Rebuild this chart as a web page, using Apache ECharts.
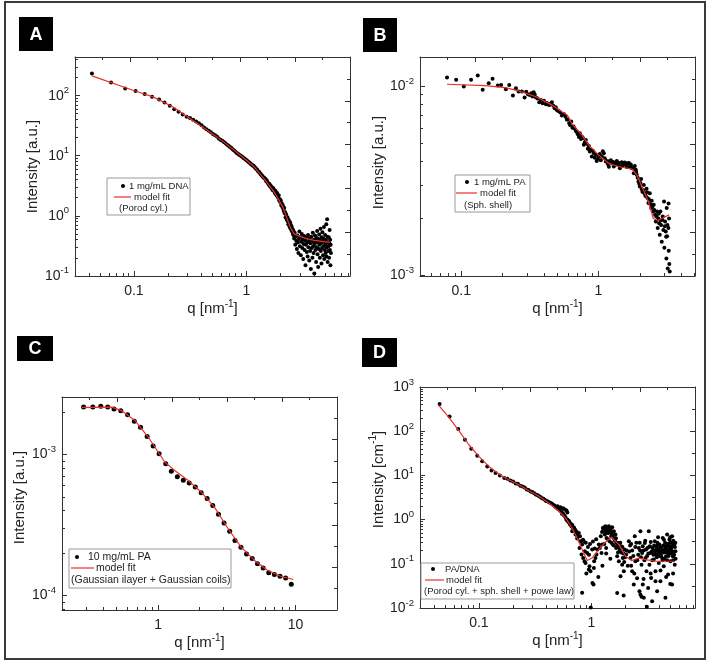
<!DOCTYPE html>
<html>
<head>
<meta charset="utf-8">
<script src="https://cdn.jsdelivr.net/npm/echarts@6/dist/echarts.min.js"></script>
<style>
html,body{margin:0;padding:0;background:#fff;}
#chart{width:709px;height:663px;}
</style>
</head>
<body>
<div id="chart"></div>
<script>
// ---- panel A : 1 mg/mL DNA ----
var dataA = [
  [0.0424,233],[0.0627,165],[0.0836,131],[0.1035,119],[0.1247,107],[0.145,95.7],[0.1675,86.4],[0.187,76.9],[0.2086,67.7],[0.228,59.6],[0.249,53.9],[0.271,48.6],[0.294,44.5],
  [0.315,42.5],[0.336,39.8],[0.357,37.2],[0.378,34.8],[0.399,32.3],[0.42,29.6],[0.441,27.6],[0.462,26.0],[0.483,24.6],[0.504,23.1],[0.525,22.0],[0.546,20.8],[0.567,19.4],[0.588,18.4],[0.609,17.7],[0.63,16.9],
  [0.651,16.1],[0.672,15.3],[0.693,14.6],[0.714,14.0],[0.735,13.4],[0.756,12.7],[0.777,12.2],[0.798,11.6],[0.819,11.1],[0.84,10.8],[0.861,10.4],[0.882,10.1],
  [0.903,9.8],[0.924,9.5],[0.945,9.1],[0.966,8.9],[0.987,8.6],[1.008,8.3],[1.029,8.0],[1.05,7.8],[1.071,7.6],[1.092,7.3],[1.113,7.1],[1.134,6.9],[1.155,6.8],[1.176,6.5],
  [1.197,6.3],[1.218,6.0],[1.239,5.9],[1.26,5.6],[1.281,5.4],[1.302,5.3],[1.323,5.0],[1.344,4.9],[1.365,4.7],[1.386,4.6],[1.407,4.4],[1.428,4.3],[1.449,4.2],
  [1.47,4.1],[1.491,3.8],[1.512,3.9],[1.533,3.6],[1.554,3.5],[1.575,3.3],[1.596,3.4],[1.617,3.1],[1.638,3.2],[1.659,2.9],[1.68,3.0],[1.701,2.7],[1.722,2.9],[1.743,2.6],[1.764,2.7],[1.785,2.4],[1.806,2.6],[1.827,2.3],[1.848,2.2],[1.869,2.4],
  [1.89,2.1],[1.911,2.0],[1.932,2.2],[1.953,1.8],[1.974,1.9],[1.995,1.7],[2.016,1.8],[2.037,1.5],[2.058,1.6],[2.079,1.4],[2.1,1.5],[2.121,1.3],[2.142,1.2],[2.163,1.35],[2.184,1.1],[2.205,1.15],[2.226,0.95],[2.247,1.05],[2.268,0.9],[2.289,0.85],
  [2.31,0.95],[2.331,0.8],[2.352,0.72],[2.373,0.85],[2.394,0.7],[2.415,0.66],[2.436,0.78],[2.457,0.62],[2.478,0.7],[2.499,0.58],[2.52,0.66],[2.541,0.55],[2.562,0.6],[2.583,0.5],[2.604,0.57],[2.625,0.47],
  [2.65,0.42],[2.68,0.52],[2.71,0.33],[2.74,0.45],[2.77,0.38],[2.80,0.28],[2.83,0.47],[2.86,0.36],[2.89,0.24],[2.92,0.41],
  [2.95,0.55],[2.98,0.31],[3.01,0.44],[3.04,0.22],[3.07,0.37],[3.10,0.50],[3.13,0.29],[3.16,0.40],[3.19,0.19],[3.22,0.34],
  [3.25,0.46],[3.28,0.27],[3.31,0.39],[3.34,0.15],[3.37,0.33],[3.40,0.43],[3.43,0.25],[3.46,0.36],[3.49,0.21],[3.52,0.48],
  [3.55,0.30],[3.58,0.38],[3.61,0.18],[3.64,0.42],[3.67,0.26],[3.70,0.35],[3.73,0.13],[3.76,0.45],[3.79,0.29],[3.82,0.37],
  [3.85,0.20],[3.88,0.52],[3.91,0.31],[3.94,0.24],[3.97,0.40],[4.00,0.11],[4.03,0.34],[4.06,0.47],[4.09,0.27],[4.12,0.38],
  [4.15,0.17],[4.18,0.43],[4.21,0.30],[4.24,0.56],[4.27,0.23],[4.30,0.36],[4.33,0.14],[4.36,0.41],[4.39,0.28],[4.42,0.49],
  [4.45,0.33],[4.48,0.20],[4.51,0.39],[4.54,0.61],[4.57,0.26],[4.60,0.35],[4.63,0.16],[4.66,0.44],[4.69,0.29],[4.72,0.53],
  [4.75,0.37],[4.78,0.22],[4.81,0.42],[4.84,0.31],[4.87,0.65],[4.90,0.19],[4.93,0.38],[4.96,0.27],[4.99,0.48],[5.02,0.34],
  [5.05,0.24],[5.08,0.40],[5.11,0.72],[5.14,0.21],[5.17,0.30],[5.20,0.88],[5.23,0.45],[5.26,0.17],[5.29,0.36],[5.32,0.26],
  [5.35,0.31],[5.38,0.44],[5.41,0.20],[5.44,0.35],[5.47,0.58],[5.50,0.27],[5.53,0.40],[5.56,0.15],[5.59,0.33],[5.62,0.24]
];
var fitA = [[0.0424,213],[0.098,123],[0.148,95.5],[0.223,64.6],[0.315,41.7],[0.445,26.9],[0.627,17.0],[0.883,10.2],[1.164,6.6],[1.429,4.17],[1.758,2.51],[2.11,1.38],[2.44,0.65],[2.65,0.5],[3.1,0.44],[4.0,0.39],[5.5,0.36]];

// ---- panel B : 1 mg/mL PA ----
var dataB = [
  [0.0787,0.01106],[0.0917,0.01076],[0.1043,0.00992],[0.1178,0.01076],[0.1318,0.01134],[0.1432,0.00953],[0.1584,0.01033],[0.169,0.01089],[0.1844,0.01004],[0.1951,0.01012],
  [0.2112,0.0096],[0.2235,0.01012],[0.2378,0.00889],[0.25,0.00972],[0.2615,0.00934],[0.2765,0.00934],[0.2892,0.00868],[0.297,0.0093],[0.3062,0.00904],[0.315,0.00895],
  [0.3238,0.00915],[0.33,0.0088],[0.3367,0.00926],[0.343,0.00902],[0.35,0.00868],[0.36,0.00858],[0.37,0.0082],[0.38,0.00842],[0.3913,0.0081],[0.40,0.00835],
  [0.4137,0.008],[0.42,0.00812],[0.43,0.00798],[0.4374,0.00794],[0.447,0.00805],[0.4576,0.0082],[0.468,0.00785],[0.4788,0.00763],[0.488,0.00772],[0.4976,0.00747],
  [0.507,0.0074],[0.5173,0.00732],[0.528,0.00725],[0.5405,0.00698],[0.55,0.0071],[0.5618,0.00709],[0.575,0.00688],[0.5881,0.00662],[0.60,0.00668],[0.6118,0.00636],
  [0.62,0.00622],[0.6328,0.00649],[0.645,0.00602],[0.6578,0.0061],[0.67,0.00595],[0.6841,0.00579],[0.695,0.00572],[0.7071,0.00556],[0.72,0.00538],[0.7312,0.00563],
  [0.745,0.00525],[0.756,0.00541],[0.77,0.00532],[0.7817,0.00489],[0.795,0.00505],[0.8084,0.00519],[0.82,0.00495],[0.836,0.00466],[0.85,0.00482],[0.8644,0.00451],
  [0.88,0.00461],[0.8939,0.00424],[0.91,0.00455],[0.9247,0.00442],[0.94,0.00418],[0.9563,0.00433],[0.97,0.00402],[0.9889,0.00412],[1.005,0.00425],[1.0226,0.00437],
  [1.04,0.00405],[1.0574,0.00424],[1.075,0.00452],[1.0935,0.00442],[1.11,0.00415],[1.1307,0.00399],[1.15,0.00402],[1.1693,0.00387],[1.19,0.00375],[1.2091,0.00402],
  [1.23,0.00405],[1.2503,0.00391],[1.27,0.00398],[1.293,0.00376],[1.315,0.00385],[1.337,0.00396],[1.36,0.00402],[1.3826,0.00384],[1.405,0.00392],[1.4297,0.00368],
  [1.455,0.00378],[1.4784,0.00396],[1.505,0.00381],[1.529,0.00391],[1.555,0.00395],[1.581,0.00384],[1.61,0.00374],[1.635,0.00391],[1.665,0.00392],[1.6905,0.00376],
  [1.72,0.00385],[1.7481,0.00368],[1.78,0.00372],[1.8077,0.00346],[1.84,0.00378],[1.8693,0.00361],
  [1.85,0.00361],[1.88,0.00352],[1.90,0.0034],[1.93,0.00328],[1.955,0.00313],[1.98,0.00305],[2.0,0.00295],[2.02,0.00308],[2.045,0.00323],[2.07,0.00285],
  [2.09,0.00277],[2.12,0.00282],[2.14,0.003],[2.165,0.00272],[2.19,0.00266],[2.215,0.00262],[2.24,0.00287],[2.26,0.00275],[2.286,0.00256],[2.31,0.00241],
  [2.33,0.00252],[2.363,0.00272],[2.39,0.00238],[2.42,0.00227],[2.444,0.00248],[2.47,0.0023],[2.5,0.00218],[2.527,0.00236],[2.55,0.00222],[2.585,0.00209],
  [2.614,0.00193],[2.64,0.00205],[2.673,0.00218],[2.70,0.00178],[2.734,0.002],[2.75,0.00212],[2.765,0.00189],[2.795,0.00164],[2.826,0.00218],[2.84,0.00195],
  [2.858,0.00185],[2.89,0.00151],[2.922,0.00197],[2.94,0.00205],[2.97,0.00174],[3.004,0.00246],[3.02,0.0014],[3.04,0.00182],[3.056,0.00193],[3.09,0.00171],
  [3.11,0.0016],[3.125,0.00123],[3.14,0.00227],[3.16,0.00161],[3.18,0.00185],[3.196,0.00109],[3.23,0.00178],[3.24,0.0024],[3.25,0.00135],[3.267,0.002],
  [3.28,0.00115],[3.304,0.00105]
];
var fitB = [[0.0787,0.0102],[0.1496,0.01004],[0.209,0.0098],[0.261,0.00941],[0.346,0.00879],[0.457,0.00794],[0.541,0.0073],[0.594,0.0070],[0.64,0.0063],[0.756,0.00552],[0.846,0.00489],[1.0,0.00433],[1.183,0.00391],[1.399,0.00376],[1.75,0.00364],[1.901,0.0034],[2.07,0.00295],[2.31,0.00245],[2.51,0.002],[2.7,0.00195],[2.97,0.00202],[3.27,0.00209]];

// ---- panel C : 10 mg/mL PA ----
var dataC = [
  [0.287,0.002163],[0.335,0.002163],[0.383,0.00219],[0.43,0.00217],[0.478,0.0021],[0.535,0.00204],[0.6,0.00191],[0.671,0.00172],[0.745,0.00156],[0.832,0.00134],
  [0.92,0.001145],[1.017,0.00101],[1.136,0.000859],[1.248,0.000758],[1.38,0.000695],[1.525,0.000655],[1.684,0.000627],[1.862,0.000587],[2.057,0.000535],[2.274,0.000486],
  [2.498,0.000435],[2.747,0.000376],[3.017,0.000327],[3.315,0.000285],[3.622,0.000245],[4.004,0.00022],[4.398,0.000197],[4.833,0.000183],[5.282,0.000168],[5.805,0.000157],
  [6.378,0.000145],[7.011,0.000141],[7.703,0.000137],[8.468,0.000133],[9.3,0.00012]
];
var fitC = [[0.279,0.002153],[0.46,0.002163],[0.543,0.00204],[0.678,0.001741],[0.847,0.001327],[1.0,0.001039],[1.117,0.000883],[1.319,0.00077],[1.648,0.000655],[2.057,0.000541],[2.569,0.000423],[3.206,0.000301],[4.004,0.000221],[5.0,0.000178],[6.24,0.000151],[7.79,0.000137],[9.62,0.00013]];

// ---- panel D : PA/DNA ----
var dataD = [
  [0.0448,412],[0.0549,217],[0.0656,112],[0.0752,64.3],[0.0855,40.2],[0.0967,27.9],[0.107,20.8],[0.1186,16.0],[0.1295,13.0],[0.1406,11.3],[0.1536,10.0],[0.168,8.73],
  [0.179,8.4],[0.19,7.7],[0.201,7.3],[0.212,6.6],[0.222,6.5],[0.233,5.8],[0.244,5.6],[0.255,5.3],[0.266,4.8],[0.276,4.7],[0.287,4.3],[0.298,4.2],[0.309,3.95],[0.32,3.7],
  [0.33,3.6],[0.341,3.4],[0.352,3.25],[0.363,3.05],[0.374,2.95],[0.385,2.8],[0.395,2.65],[0.406,2.6],[0.417,2.5],[0.428,2.4],[0.438,2.35],[0.449,2.25],[0.46,2.15],
  [0.471,2.05],[0.482,1.9],[0.492,1.85],[0.503,1.75],[0.514,1.7],[0.525,1.6],[0.536,1.55],[0.546,1.35],[0.557,1.4],[0.568,1.25],[0.579,1.2],[0.59,1.1],[0.6,0.98],
  [0.611,1.0],[0.622,0.88],[0.633,0.92],[0.644,0.78],[0.655,0.8],[0.665,0.7],[0.676,0.75],[0.687,0.62],[0.698,0.66],[0.709,0.55],[0.72,0.58],[0.73,0.48],[0.741,0.52],[0.752,0.42],
  [0.5,2.0],[0.53,1.9],[0.56,1.8],[0.58,1.7],[0.6,1.6],[0.61,1.45],
  [0.62,0.946],[0.651,0.767],[0.674,0.543],[0.697,0.645],[0.721,0.457],[0.746,0.371],[0.772,0.498],[0.798,0.322],[0.826,0.271],[0.855,0.322],[0.873,0.191],
  [0.782,0.228],[0.815,0.161],[0.826,0.022],[0.843,0.135],[0.867,0.114],[0.885,0.104],[0.915,0.176],[0.947,0.0736],[0.96,0.0875],[0.98,0.0676],[0.985,0.0102],
  [1.014,0.209],[1.042,0.0338],[1.056,0.114],[1.085,0.135],[1.107,0.161],[1.13,0.209],[1.162,0.271],[1.186,0.228],[1.21,0.418],[1.227,0.176],[1.243,0.271],
  [0.79,0.42],[0.84,0.35],[0.89,0.3],[0.93,0.24],[0.97,0.28],[1.03,0.32],[1.07,0.22],[1.1,0.36],[1.02,0.0368],
  [1.26,0.645],[1.296,0.67],[1.313,0.457],[1.331,0.704],[1.349,0.228],[1.359,0.384],[1.378,0.645],[1.406,0.498],[1.426,0.704],[1.445,0.322],[1.475,0.624],[1.495,0.418],
  [1.526,0.67],[1.546,0.271],[1.579,0.543],[1.6,0.352],[1.633,0.457],[1.655,0.228],[1.69,0.148],[1.713,0.295],[1.75,0.114],[1.772,0.191],[1.81,0.052],[1.833,0.248],
  [1.872,0.0955],[1.897,0.135],[1.937,0.0676],[1.963,0.209],[2.03,0.161],
  [1.24,0.52],[1.28,0.58],[1.32,0.55],[1.34,0.6],[1.37,0.5],[1.39,0.58],[1.42,0.55],[1.44,0.61],[1.46,0.52],[1.49,0.56],[1.51,0.48],[1.54,0.44],[1.56,0.4],[1.59,0.38],
  [1.62,0.33],[1.67,0.3],[1.7,0.26],[1.74,0.24],[1.79,0.21],[1.85,0.18],[1.92,0.17],[1.99,0.14],[1.35,0.17],[1.47,0.13],[1.69,0.0218],[1.93,0.019],
  [2.145,0.322],[2.219,0.135],[2.295,0.0676],[2.374,0.0338],[2.422,0.418],[2.456,0.114],[2.54,0.047],[2.63,0.228],[2.665,0.0239],[2.72,0.543],[2.78,0.0955],[2.815,0.176],
  [2.855,0.0338],[2.915,0.0169],[2.976,0.295],[3.015,0.135],[3.077,0.0676],[3.14,0.228],[3.183,0.0284],[3.226,0.543],[3.27,0.0955],[3.34,0.176],[3.385,0.0478],[3.454,0.0142],
  [3.5,0.228],[3.574,0.124],[3.648,0.322],[3.698,0.0676],[3.749,0.161],[3.826,0.0239],[3.905,0.209],[3.958,0.104],[4.012,0.271],[4.095,0.0403],[4.18,0.176],[4.237,0.135],
  [4.295,0.384],[4.383,0.0875],[4.474,0.209],[4.535,0.0169],[4.597,0.148],[4.692,0.248],[4.788,0.057],[4.854,0.176],[4.92,0.352],[5.02,0.114],[5.125,0.228],[5.195,0.0338],
  [5.266,0.148],[5.374,0.271],[5.486,0.0955],[5.56,0.191],[5.195,0.418],[4.692,0.457],
  [3.05,0.21],[3.2,0.17],[3.3,0.25],[3.42,0.19],[3.55,0.16],[3.6,0.26],[3.72,0.2],[3.8,0.14],[3.85,0.3],[3.95,0.18],[4.05,0.23],[4.15,0.15],[4.25,0.2],[4.35,0.26],
  [4.45,0.13],[4.55,0.22],[4.65,0.18],[4.75,0.28],[4.82,0.15],[4.9,0.21],[4.98,0.3],[5.06,0.17],[5.15,0.25],[5.24,0.19],[5.32,0.33],[5.42,0.16],[5.5,0.24],[5.58,0.13],
  [2.2,0.26],[2.3,0.2],[2.5,0.3],[2.6,0.16],[2.7,0.2],[2.85,0.25],[2.95,0.12],[3.1,0.0106],[2.72,0.02],[2.78,0.018],
  [2.16,0.19],[2.25,0.28],[2.35,0.15],[2.45,0.24],[2.55,0.12],[2.68,0.3],[2.75,0.14],[2.9,0.2],[3.0,0.33],[3.12,0.15],[3.25,0.24],[3.36,0.31],[3.46,0.12],[3.52,0.2],
  [3.66,0.17],[3.76,0.24],[3.88,0.27],[3.99,0.15],[4.08,0.19],[4.2,0.24],[4.28,0.12],[4.4,0.18],[4.5,0.3],[4.6,0.25],[4.7,0.12],[4.8,0.2],[4.95,0.25],[5.1,0.2],
  [5.2,0.3],[5.3,0.12],[5.45,0.28],[5.55,0.3],[5.0,0.4],[4.4,0.35],[3.9,0.4],[3.35,0.06],[3.7,0.04],[4.1,0.07],[4.6,0.05],[5.0,0.035],[5.3,0.06],[2.9,0.045],
  [2.4,0.06],[2.25,0.09],[1.15,0.05],[1.25,0.09],[0.95,0.16],[0.9,0.06],[1.05,0.08],[1.3,0.28],[1.4,0.36],[1.5,0.3],[1.58,0.26],[1.65,0.38],[1.72,0.18],[1.8,0.3],
  [1.88,0.24],[1.95,0.11],[2.05,0.2],[2.1,0.09]
];
var fitD = [[0.0436,398],[0.0542,206],[0.0664,103],[0.0815,49.5],[0.1,27.0],[0.1227,16.0],[0.1506,10.8],[0.1846,8.0],[0.2265,6.17],[0.278,4.52],[0.341,3.36],[0.418,2.38],[0.513,1.54],[0.588,1.09],[0.673,0.645],[0.746,0.384],[0.826,0.209],[0.916,0.118],[1.014,0.135],[1.161,0.209],[1.331,0.311],[1.505,0.397],[1.75,0.271],[2.005,0.148],[2.266,0.118],[2.63,0.135],[3.01,0.124],[3.7,0.114],[5.38,0.114]];

// tick values
var xMajorA = [0.1, 1], xMinorA = [0.04,0.05,0.06,0.07,0.08,0.09,0.2,0.3,0.4,0.5,0.6,0.7,0.8,0.9,2,3,4,5,6,7,8];
var yMajorA = [0.1, 1, 10, 100], yMinorA = [0.2,0.3,0.4,0.5,0.6,0.7,0.8,0.9,2,3,4,5,6,7,8,9,20,30,40,50,60,70,80,90,200,300,400];
var xMajorB = [0.1, 1], xMinorB = [0.06,0.07,0.08,0.09,0.2,0.3,0.4,0.5,0.6,0.7,0.8,0.9,2,3,4,5];
var yMajorB = [0.001, 0.01], yMinorB = [0.002,0.003,0.004,0.005,0.006,0.007,0.008,0.009];
var xMajorC = [1, 10], xMinorC = [0.3,0.4,0.5,0.6,0.7,0.8,0.9,2,3,4,5,6,7,8,9];
var yMajorC = [0.0001, 0.001], yMinorC = [0.00008,0.00009,0.0002,0.0003,0.0004,0.0005,0.0006,0.0007,0.0008,0.0009,0.002];
var xMajorD = [0.1, 1], xMinorD = xMinorA;
var yMajorD = [0.01, 0.1, 1, 10, 100, 1000], yMinorD = [0.02,0.03,0.04,0.05,0.06,0.07,0.08,0.09,0.2,0.3,0.4,0.5,0.6,0.7,0.8,0.9,2,3,4,5,6,7,8,9,20,30,40,50,60,70,80,90,200,300,400,500,600,700,800,900];

var FONT = '"Liberation Sans", Arial, sans-serif';
var AX = '#333';
var TXT = '#222';
var RED = '#e8302c';

var panels = [
  {box:[75,57,275,219], x:[0.03,8.3], y:[0.0995,440], xMajor:xMajorA, xMinor:xMinorA, yMajor:yMajorA, yMinor:yMinorA,
   yName:'{t|Intensity [a.u.]}', yGap:32, yPad:[0,0,0,0], xGap:20, data:dataA, fit:fitA, size:4},
  {box:[420,57,275,219], x:[0.05,5.05], y:[0.000995,0.0142], xMajor:xMajorB, xMinor:xMinorB, yMajor:yMajorB, yMinor:yMinorB,
   yName:'{t|Intensity [a.u.]}', yGap:19, yPad:[0,0,0,8], xGap:20, data:dataB, fit:fitB, size:4},
  {box:[62,397,275,213], x:[0.2,20], y:[0.000079,0.00255], xMajor:xMajorC, xMinor:xMinorC, yMajor:yMajorC, yMinor:yMinorC,
   yName:'{t|Intensity [a.u.]}', yGap:32, yPad:[0,0,0,12], xGap:22, data:dataC, fit:fitC, size:5},
  {box:[420,387,275,221], x:[0.03,8.3], y:[0.00995,1005], xMajor:xMajorD, xMinor:xMinorD, yMajor:yMajorD, yMinor:yMinorD,
   yName:'{t|Intensity [cm}{s|-1}{t|]}', yGap:28, yPad:[0,0,0,36], xGap:22, data:dataD, fit:fitD, size:4}
];

var nameRich = {
  t: {fontSize:15, fontFamily:FONT, color:TXT, lineHeight:20},
  s: {fontSize:10, fontFamily:FONT, color:TXT, lineHeight:12, verticalAlign:'top'}
};
var labelRich = {
  b: {fontSize:14, fontFamily:FONT, color:TXT, lineHeight:20},
  s: {fontSize:9.5, fontFamily:FONT, color:TXT, lineHeight:11, verticalAlign:'top'}
};

function fmtX(v) { return v >= 1 ? String(Math.round(v)) : String(+v.toPrecision(1)); }
function fmtY(v) { return '{b|10}{s|' + Math.round(Math.log10(v)) + '}'; }

var option = {animation:false, backgroundColor:'#fff', grid:[], xAxis:[], yAxis:[], series:[], graphic:{elements:[]}};

panels.forEach(function (p, g) {
  option.grid.push({left:p.box[0], top:p.box[1], width:p.box[2], height:p.box[3]});
  // bottom: major ticks + labels
  option.xAxis.push({
    type:'log', logBase:10, gridIndex:g, position:'bottom', min:p.x[0], max:p.x[1],
    name:'{t|q [nm}{s|-1}{t|]}', nameLocation:'middle', nameGap:p.xGap, nameTextStyle:{rich:nameRich},
    axisLine:{show:true, onZero:false, lineStyle:{color:AX, width:1}},
    axisTick:{show:true, inside:true, length:5, customValues:p.xMajor, lineStyle:{color:AX}},
    axisLabel:{customValues:p.xMajor, formatter:fmtX, margin:8, fontSize:14, fontFamily:FONT, color:TXT},
    splitLine:{show:false}, minorTick:{show:false}
  });
  // bottom: minor ticks
  option.xAxis.push({
    type:'log', logBase:10, gridIndex:g, position:'bottom', min:p.x[0], max:p.x[1],
    axisLine:{show:false, onZero:false}, axisLabel:{show:false}, splitLine:{show:false},
    axisTick:{show:true, inside:true, length:3, customValues:p.xMinor, lineStyle:{color:AX}}
  });
  // top frame
  option.xAxis.push({
    type:'value', gridIndex:g, position:'top', min:0, max:1, interval:0.2,
    axisLine:{show:true, onZero:false, lineStyle:{color:AX, width:1}}, axisLabel:{show:false}, splitLine:{show:false},
    axisTick:{show:true, inside:true, length:5, lineStyle:{color:AX}},
    minorTick:{show:true, splitNumber:2, length:3, lineStyle:{color:AX}}
  });
  // left: major ticks + labels
  option.yAxis.push({
    type:'log', logBase:10, gridIndex:g, position:'left', min:p.y[0], max:p.y[1],
    name:p.yName, nameLocation:'middle', nameGap:p.yGap, nameTextStyle:{rich:nameRich, padding:p.yPad},
    axisLine:{show:true, onZero:false, lineStyle:{color:AX, width:1}},
    axisTick:{show:true, inside:true, length:5, customValues:p.yMajor, lineStyle:{color:AX}},
    axisLabel:{customValues:p.yMajor, formatter:fmtY, margin:6, rich:labelRich},
    splitLine:{show:false}, minorTick:{show:false}
  });
  // left: minor ticks
  option.yAxis.push({
    type:'log', logBase:10, gridIndex:g, position:'left', min:p.y[0], max:p.y[1],
    axisLine:{show:false, onZero:false}, axisLabel:{show:false}, splitLine:{show:false},
    axisTick:{show:true, inside:true, length:3, customValues:p.yMinor, lineStyle:{color:AX}}
  });
  // right frame
  option.yAxis.push({
    type:'value', gridIndex:g, position:'right', min:0, max:1, interval:0.2,
    axisLine:{show:true, onZero:false, lineStyle:{color:AX, width:1}}, axisLabel:{show:false}, splitLine:{show:false},
    axisTick:{show:true, inside:true, length:5, lineStyle:{color:AX}},
    minorTick:{show:true, splitNumber:2, length:3, lineStyle:{color:AX}}
  });

  option.series.push({
    type:'scatter', xAxisIndex:g * 3, yAxisIndex:g * 3, data:p.data,
    symbol:'circle', symbolSize:p.size, itemStyle:{color:'#000', opacity:1}, z:2
  });
  option.series.push({
    type:'line', xAxisIndex:g * 3, yAxisIndex:g * 3, data:p.fit,
    showSymbol:false, symbol:'none', lineStyle:{color:RED, width:1.2}, z:3
  });
});

// legends, panel letters and outer frame
var legends = [
  {box:[107,178,83,37], dot:[123,186], t1:'1 mg/mL DNA', t1x:129, line:[114,131,197], t2x:134, t3:'(Porod cyl.)', t3x:119, t3y:208, fs:9.5},
  {box:[455,175,75,37], dot:[467,182], t1:'1 mg/mL PA', t1x:474, line:[456,477,193], t2x:480, t3:'(Sph. shell)', t3x:464, t3y:205, fs:9.5},
  {box:[69,549,162,39], dot:[77,557], t1:'10 mg/mL PA', t1x:88, line:[71,94,568], t2x:96, t3:'(Gaussian ilayer + Gaussian coils)', t3x:71, t3y:580, fs:10.5},
  {box:[421,563,153,36], dot:[433,569], t1:'PA/DNA', t1x:445, line:[425,444,580], t2x:446, t3:'(Porod cyl. + sph. shell + powe law)', t3x:424, t3y:591, fs:9.5}
];
var letters = [
  {t:'A', box:[19,17,34,34]},
  {t:'B', box:[363,18,34,34]},
  {t:'C', box:[17,336,36,25]},
  {t:'D', box:[362,338,35,29]}
];
var els = option.graphic.elements;
els.push({type:'rect', shape:{x:5, y:2, width:700, height:657}, style:{fill:'none', stroke:'#3a3a3a', lineWidth:2}, z:10});
legends.forEach(function (L) {
  var st = function (txt) { return {text:txt, fontSize:L.fs, fontFamily:FONT, fill:TXT, verticalAlign:'middle'}; };
  els.push({type:'rect', shape:{x:L.box[0], y:L.box[1], width:L.box[2], height:L.box[3]}, style:{fill:'#fff', stroke:'#999', lineWidth:1}, z:20});
  els.push({type:'circle', shape:{cx:L.dot[0], cy:L.dot[1], r:2}, style:{fill:'#000'}, z:21});
  els.push({type:'text', x:L.t1x, y:L.dot[1], style:st(L.t1), z:21});
  els.push({type:'line', shape:{x1:L.line[0], y1:L.line[2], x2:L.line[1], y2:L.line[2]}, style:{stroke:RED, lineWidth:1.2}, z:21});
  els.push({type:'text', x:L.t2x, y:L.line[2], style:st('model fit'), z:21});
  els.push({type:'text', x:L.t3x, y:L.t3y, style:st(L.t3), z:21});
});
letters.forEach(function (l) {
  els.push({type:'rect', shape:{x:l.box[0], y:l.box[1], width:l.box[2], height:l.box[3]}, style:{fill:'#000'}, z:20});
  els.push({type:'text', x:l.box[0] + l.box[2] / 2, y:l.box[1] + l.box[3] / 2 + 1,
    style:{text:l.t, fontSize:18, fontWeight:'bold', fontFamily:FONT, fill:'#fff', align:'center', verticalAlign:'middle'}, z:21});
});

echarts.init(document.getElementById('chart'), null, {renderer:'canvas'}).setOption(option);
</script>
</body>
</html>
